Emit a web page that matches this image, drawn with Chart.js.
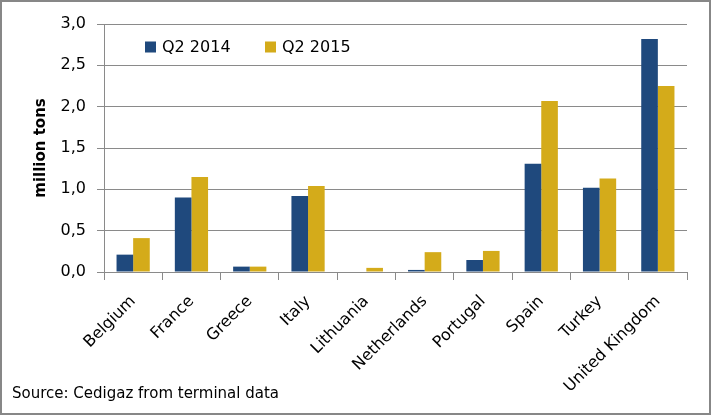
<!DOCTYPE html>
<html>
<head>
<meta charset="utf-8">
<script src="https://cdn.jsdelivr.net/npm/chart.js@4"></script>
<style>
  html, body { margin: 0; padding: 0; background: #fff; }
  #wrap { width: 711px; height: 415px; box-sizing: border-box; border: 2px solid #878787; }
  canvas { display: block; }
</style>
</head>
<body>
<div id="wrap"><canvas id="lngChart" width="707" height="411"></canvas></div>
<script>
const countries = ['Belgium', 'France', 'Greece', 'Italy', 'Lithuania', 'Netherlands', 'Portugal', 'Spain', 'Turkey', 'United Kingdom'];
const q2_2014 = [0.21, 0.90, 0.065, 0.92, 0, 0.025, 0.145, 1.31, 1.02, 2.82];
const q2_2015 = [0.41, 1.15, 0.065, 1.04, 0.05, 0.24, 0.255, 2.07, 1.13, 2.25];
const yTicks = [0, 0.5, 1.0, 1.5, 2.0, 2.5, 3.0];
const sourceNote = 'Source: Cedigaz from terminal data';

const FONT = "'DejaVu Sans', sans-serif";
const GRID = '#8a8a8a';

// legend drawn inside the plot, top-left, like the original
const innerLegend = {
  id: 'innerLegend',
  afterDraw(chart) {
    const ctx = chart.ctx;
    const area = chart.chartArea;
    const x0 = area.left + 41;
    const y0 = area.top + 23;
    const gap = 120;
    ctx.save();
    ctx.font = '16px ' + FONT;
    ctx.textBaseline = 'middle';
    chart.data.datasets.forEach((ds, i) => {
      const x = x0 + i * gap;
      ctx.fillStyle = ds.backgroundColor;
      ctx.fillRect(x, y0 - 5.5, 11, 11);
      ctx.fillStyle = '#000';
      ctx.fillText(ds.label, x + 17, y0 + 1);
    });
    ctx.restore();
  }
};

// source line in the bottom-left corner
const sourceText = {
  id: 'sourceText',
  afterDraw(chart) {
    const ctx = chart.ctx;
    ctx.save();
    ctx.font = '15px ' + FONT;
    ctx.fillStyle = '#000';
    ctx.textBaseline = 'middle';
    ctx.fillText(sourceNote, 10, chart.height - 19);
    ctx.restore();
  }
};

Chart.defaults.font.family = FONT;
Chart.defaults.color = '#000';

const ctx = document.getElementById('lngChart').getContext('2d');
new Chart(ctx, {
  type: 'bar',
  data: {
    labels: countries,
    datasets: [
      { label: 'Q2 2014', data: q2_2014, backgroundColor: '#1f497d' },
      { label: 'Q2 2015', data: q2_2015, backgroundColor: '#d4ab1a' }
    ]
  },
  options: {
    responsive: false,
    animation: false,
    layout: { padding: { left: 10, right: 22, top: 22, bottom: 0 } },
    datasets: {
      bar: { categoryPercentage: 0.57, barPercentage: 1.0 }
    },
    scales: {
      x: {
        grid: { offset: true, drawOnChartArea: false, color: GRID, tickLength: 8 },
        border: { color: GRID },
        ticks: {
          autoSkip: false,
          minRotation: 45,
          maxRotation: 45,
          padding: 12,
          font: { size: 16 }
        },
        afterFit(scale) { scale.height = 141; }
      },
      y: {
        min: 0,
        max: 3,
        afterBuildTicks(scale) {
          scale.ticks = yTicks.map(v => ({ value: v }));
        },
        grid: { color: GRID, tickLength: 7 },
        border: { color: GRID },
        ticks: {
          padding: 11,
          font: { size: 16 },
          callback: v => v.toFixed(1).replace('.', ',')
        },
        title: {
          display: true,
          text: 'million tons',
          font: { size: 15, weight: 'bold' },
          padding: { top: 20, bottom: 0 }
        },
        afterFit(scale) { scale.width = 92; }
      }
    },
    plugins: {
      legend: { display: false },
      tooltip: { enabled: false }
    }
  },
  plugins: [innerLegend, sourceText]
});
</script>
</body>
</html>
